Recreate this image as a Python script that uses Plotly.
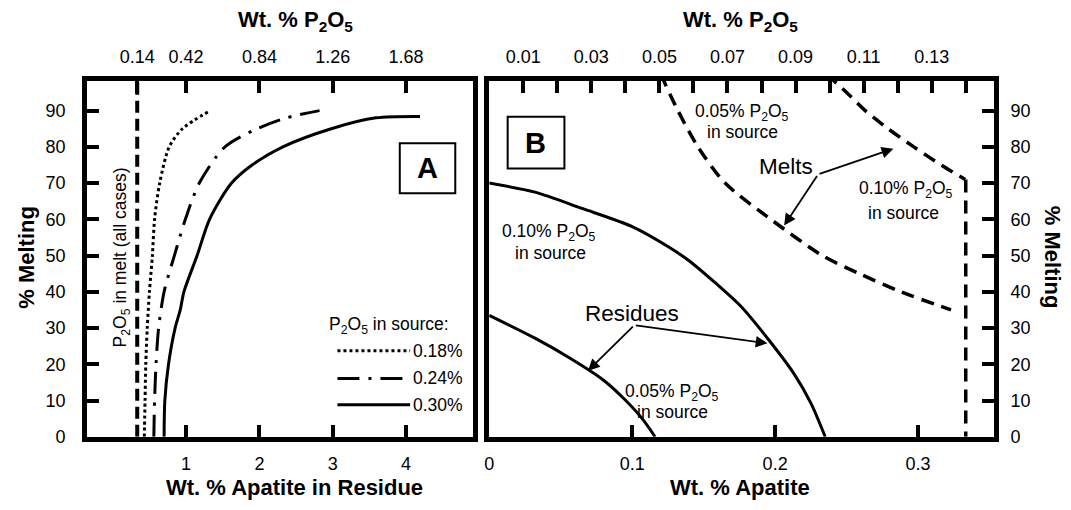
import plotly.graph_objects as go

# ---------------- data ----------------
# Panel A: wt.% apatite in residue vs % melting
a_dot_melt = [0, 10, 20, 30, 40, 50, 60, 70, 80, 85, 90]
a_dot_apatite = [0.43, 0.44, 0.45, 0.47, 0.50, 0.54, 0.57, 0.64, 0.77, 0.95, 1.33]
a_dashdot_melt = [0, 10, 20, 30, 40, 50, 60, 70, 80, 85, 88, 90]
a_dashdot_apatite = [0.56, 0.57, 0.59, 0.625, 0.70, 0.84, 0.99, 1.18, 1.53, 1.97, 2.37, 2.82]
a_solid_melt = [0, 10, 20, 30, 35, 40, 50, 60, 70, 75, 80, 85, 88, 88.4]
a_solid_apatite = [0.70, 0.71, 0.76, 0.85, 0.92, 0.97, 1.15, 1.32, 1.62, 1.90, 2.32, 2.98, 3.59, 4.19]
melt_p2o5_sat = 0.14          # P2O5 in melt (all cases)
sat_melt_range_a = [0, 100]

# Panel B
b_melt05_apatite = [0.120, 0.132, 0.146, 0.165, 0.197, 0.233, 0.259, 0.288, 0.323]
b_melt05_melt = [100, 90, 80, 70, 60, 50, 45, 40, 35]
b_melt10_apatite = [0.236, 0.250, 0.263, 0.279, 0.297, 0.316, 0.333]
b_melt10_melt = [100, 95, 90, 85, 80, 75, 71]
sat_melt_range_b = [71, 0]
b_res10_apatite = [0, 0.032, 0.065, 0.100, 0.125, 0.140, 0.158, 0.176, 0.196, 0.213, 0.225, 0.235]
b_res10_melt = [70, 67.5, 63, 58, 52.5, 48.5, 42.5, 36, 26.5, 17.5, 9.3, 0]
b_res05_apatite = [0, 0.032, 0.056, 0.080, 0.095, 0.107, 0.116]
b_res05_melt = [33.5, 27.2, 21.8, 15.6, 10.2, 5, 0]

# ticks
y_ticks = [0, 10, 20, 30, 40, 50, 60, 70, 80, 90]
a_bottom_ticks = [1, 2, 3, 4]
a_top_ticks = [0.14, 0.42, 0.84, 1.26, 1.68]
b_bottom_ticks = [0, 0.1, 0.2, 0.3]
b_bottom_text = ["0", "0.1", "0.2", "0.3"]
b_top_ticks = [0.01, 0.02, 0.03, 0.04, 0.05, 0.06, 0.07, 0.08, 0.09, 0.10, 0.11, 0.12, 0.13, 0.14]
b_top_text = ["0.01", "", "0.03", "", "0.05", "", "0.07", "", "0.09", "", "0.11", "", "0.13", ""]
legend_labels = ["0.18%", "0.24%", "0.30%"]

P2O5_IN_APATITE = 0.42
A_RANGE = [-0.35, 4.91]
B_RANGE = [0, 0.353]
Y_RANGE = [0, 98.2]

FONT = "Liberation Sans, Arial, sans-serif"
W, H = 1071, 510

def px_x(p):
    return p / W

def px_y(p):
    return 1 - p / H

fig = go.Figure()

BLK = "black"
# Panel A traces
fig.add_trace(go.Scatter(x=[melt_p2o5_sat, melt_p2o5_sat], y=sat_melt_range_a, xaxis="x3", yaxis="y",
                         mode="lines", line=dict(color=BLK, width=4, dash="12px,6px")))
fig.add_trace(go.Scatter(x=a_dot_apatite, y=a_dot_melt, xaxis="x", yaxis="y", mode="lines",
                         line=dict(color=BLK, width=3, dash="3px,3px", shape="spline", smoothing=0.8)))
fig.add_trace(go.Scatter(x=a_dashdot_apatite, y=a_dashdot_melt, xaxis="x", yaxis="y", mode="lines",
                         line=dict(color=BLK, width=3, dash="22px,9px,3px,9px", shape="spline", smoothing=0.8)))
fig.add_trace(go.Scatter(x=a_solid_apatite, y=a_solid_melt, xaxis="x", yaxis="y", mode="lines",
                         line=dict(color=BLK, width=3, shape="spline", smoothing=0.8)))

# Panel B traces
fig.add_trace(go.Scatter(x=b_melt05_apatite, y=b_melt05_melt, xaxis="x2", yaxis="y2", mode="lines",
                         line=dict(color=BLK, width=3.5, dash="13px,8px", shape="spline", smoothing=0.8)))
fig.add_trace(go.Scatter(x=b_melt10_apatite, y=b_melt10_melt, xaxis="x2", yaxis="y2", mode="lines",
                         line=dict(color=BLK, width=3.5, dash="13px,8px", shape="spline", smoothing=0.8)))
fig.add_trace(go.Scatter(x=[melt_p2o5_sat, melt_p2o5_sat], y=sat_melt_range_b, xaxis="x4", yaxis="y2",
                         mode="lines", line=dict(color=BLK, width=3.5, dash="13px,8px")))
fig.add_trace(go.Scatter(x=b_res10_apatite, y=b_res10_melt, xaxis="x2", yaxis="y2", mode="lines",
                         line=dict(color=BLK, width=3, shape="spline", smoothing=0.8)))
fig.add_trace(go.Scatter(x=b_res05_apatite, y=b_res05_melt, xaxis="x2", yaxis="y2", mode="lines",
                         line=dict(color=BLK, width=3, shape="spline", smoothing=0.8)))

dom_a = [px_x(82.5), px_x(470)]
dom_b = [px_x(486.5), px_x(993.5)]
dom_y = [px_y(445.5), px_y(82.5)]

tickfont = dict(family=FONT, size=18, color=BLK)
common = dict(showline=True, linewidth=5, linecolor=BLK, mirror=True, ticks="inside",
              ticklen=12, tickwidth=4, tickcolor=BLK, showgrid=False, zeroline=False,
              tickfont=tickfont, fixedrange=True)

fig.update_layout(
    width=W, height=H, margin=dict(l=0, r=0, t=0, b=0),
    paper_bgcolor="white", plot_bgcolor="white", showlegend=False,
    font=dict(family=FONT, size=17, color=BLK),
    xaxis=dict(domain=dom_a, anchor="y", range=A_RANGE, tickmode="array",
               tickvals=a_bottom_ticks, ticklabelstandoff=7, **common),
    yaxis=dict(domain=dom_y, anchor="x", range=Y_RANGE, tickmode="array", tickvals=y_ticks,
               ticklabelstandoff=13, **common),
    xaxis2=dict(domain=dom_b, anchor="y2", range=B_RANGE, tickmode="array",
                tickvals=b_bottom_ticks, ticktext=b_bottom_text, ticklabelstandoff=7, **common),
    yaxis2=dict(domain=dom_y, anchor="x2", range=Y_RANGE, side="right", tickmode="array",
                tickvals=y_ticks, ticklabelstandoff=8, **common),
    xaxis3=dict(overlaying="x", side="top", anchor="y",
                range=[A_RANGE[0] * P2O5_IN_APATITE, A_RANGE[1] * P2O5_IN_APATITE],
                tickmode="array", tickvals=a_top_ticks, ticktext=[f"{v:.2f}" for v in a_top_ticks],
                ticklabelstandoff=6, **common),
    xaxis4=dict(overlaying="x2", side="top", anchor="y2",
                range=[B_RANGE[0] * P2O5_IN_APATITE, B_RANGE[1] * P2O5_IN_APATITE],
                tickmode="array", tickvals=b_top_ticks, ticktext=b_top_text,
                ticklabelstandoff=6, **common),
)

shapes = []
anns = []

# Legend in panel A (drawn with shapes)
leg_dash = ["3px,3px", "22px,9px,3px,9px", "solid"]
leg_y = [23.7, 16.1, 8.8]
for d, yy, lab in zip(leg_dash, leg_y, legend_labels):
    shapes.append(dict(type="line", xref="x", yref="y", x0=3.064, x1=4.055, y0=yy, y1=yy,
                       line=dict(color=BLK, width=3, dash=d)))
    anns.append(dict(xref="x", yref="y", x=4.07, y=yy, text=lab, showarrow=False,
                     xanchor="left", yanchor="middle", font=dict(size=17.5)))
anns.append(dict(xref="x", yref="y", x=3.763, y=30.7, text="P<sub>2</sub>O<sub>5</sub> in source:",
                 showarrow=False, xanchor="center", yanchor="middle", font=dict(size=17.5)))

# Boxes A and B
shapes.append(dict(type="rect", xref="x", yref="y", x0=3.914, x1=4.671, y0=67.2, y1=81.0,
                   line=dict(color=BLK, width=2)))
anns.append(dict(xref="x", yref="y", x=4.292, y=74.1, text="<b>A</b>", showarrow=False,
                 font=dict(size=29)))
shapes.append(dict(type="rect", xref="x2", yref="y2", x0=0.0129, x1=0.0526, y0=74.0, y1=88.3,
                   line=dict(color=BLK, width=2)))
anns.append(dict(xref="x2", yref="y2", x=0.0327, y=81.1, text="<b>B</b>", showarrow=False,
                 font=dict(size=29)))

# Rotated text in A
anns.append(dict(xref="x", yref="y", x=0.118, y=49.6, text="P<sub>2</sub>O<sub>5</sub> in melt (all cases)",
                 showarrow=False, textangle=-90, font=dict(size=17.5)))

# Panel B labels
def btxt(x, y, t, size=17.5):
    anns.append(dict(xref="x2", yref="y2", x=x, y=y, text=t, showarrow=False,
                     xanchor="center", yanchor="middle", font=dict(size=size)))

P2O5 = "P<sub>2</sub>O<sub>5</sub>"
btxt(0.1765, 89.4, "0.05% " + P2O5)
btxt(0.1772, 84.2, "in source")
btxt(0.2914, 68.3, "0.10% " + P2O5)
btxt(0.2900, 61.8, "in source")
btxt(0.0421, 56.5, "0.10% " + P2O5)
btxt(0.0428, 50.8, "in source")
btxt(0.1278, 12.3, "0.05% " + P2O5)
btxt(0.1285, 6.9, "in source")
btxt(0.2079, 74.5, "Melts", 22.5)
btxt(0.0999, 33.9, "Residues", 22.5)

# arrows
def arrow(x, y, ax, ay):
    anns.append(dict(xref="x2", yref="y2", axref="x2", ayref="y2", x=x, y=y, ax=ax, ay=ay,
                     text="", showarrow=True, arrowhead=2, arrowsize=1.3, arrowwidth=1.8,
                     arrowcolor=BLK, standoff=0, startstandoff=0))

arrow(0.2827, 79.5, 0.2300, 72.4)
arrow(0.2063, 58.3, 0.2300, 72.4)
arrow(0.0691, 18.2, 0.1015, 30.8)
arrow(0.1946, 25.8, 0.1015, 30.8)

# Axis titles
def title(x, y, t, angle=0):
    anns.append(dict(xref="paper", yref="paper", x=x, y=y, text="<b>" + t + "</b>", showarrow=False,
                     xanchor="center", yanchor="middle", textangle=angle, font=dict(size=22)))

title(px_x(292), px_y(21), "Wt. % " + P2O5)
title(px_x(738.5), px_y(21), "Wt. % " + P2O5)
title(px_x(291), px_y(497), "Wt. % Apatite in Residue")
title(px_x(738.5), px_y(497), "Wt. % Apatite")
title(px_x(22), px_y(262), "% Melting", -90)
title(px_x(1052), px_y(262), "% Melting", 90)

fig.update_layout(shapes=shapes, annotations=anns)
fig.write_html("out.html")
